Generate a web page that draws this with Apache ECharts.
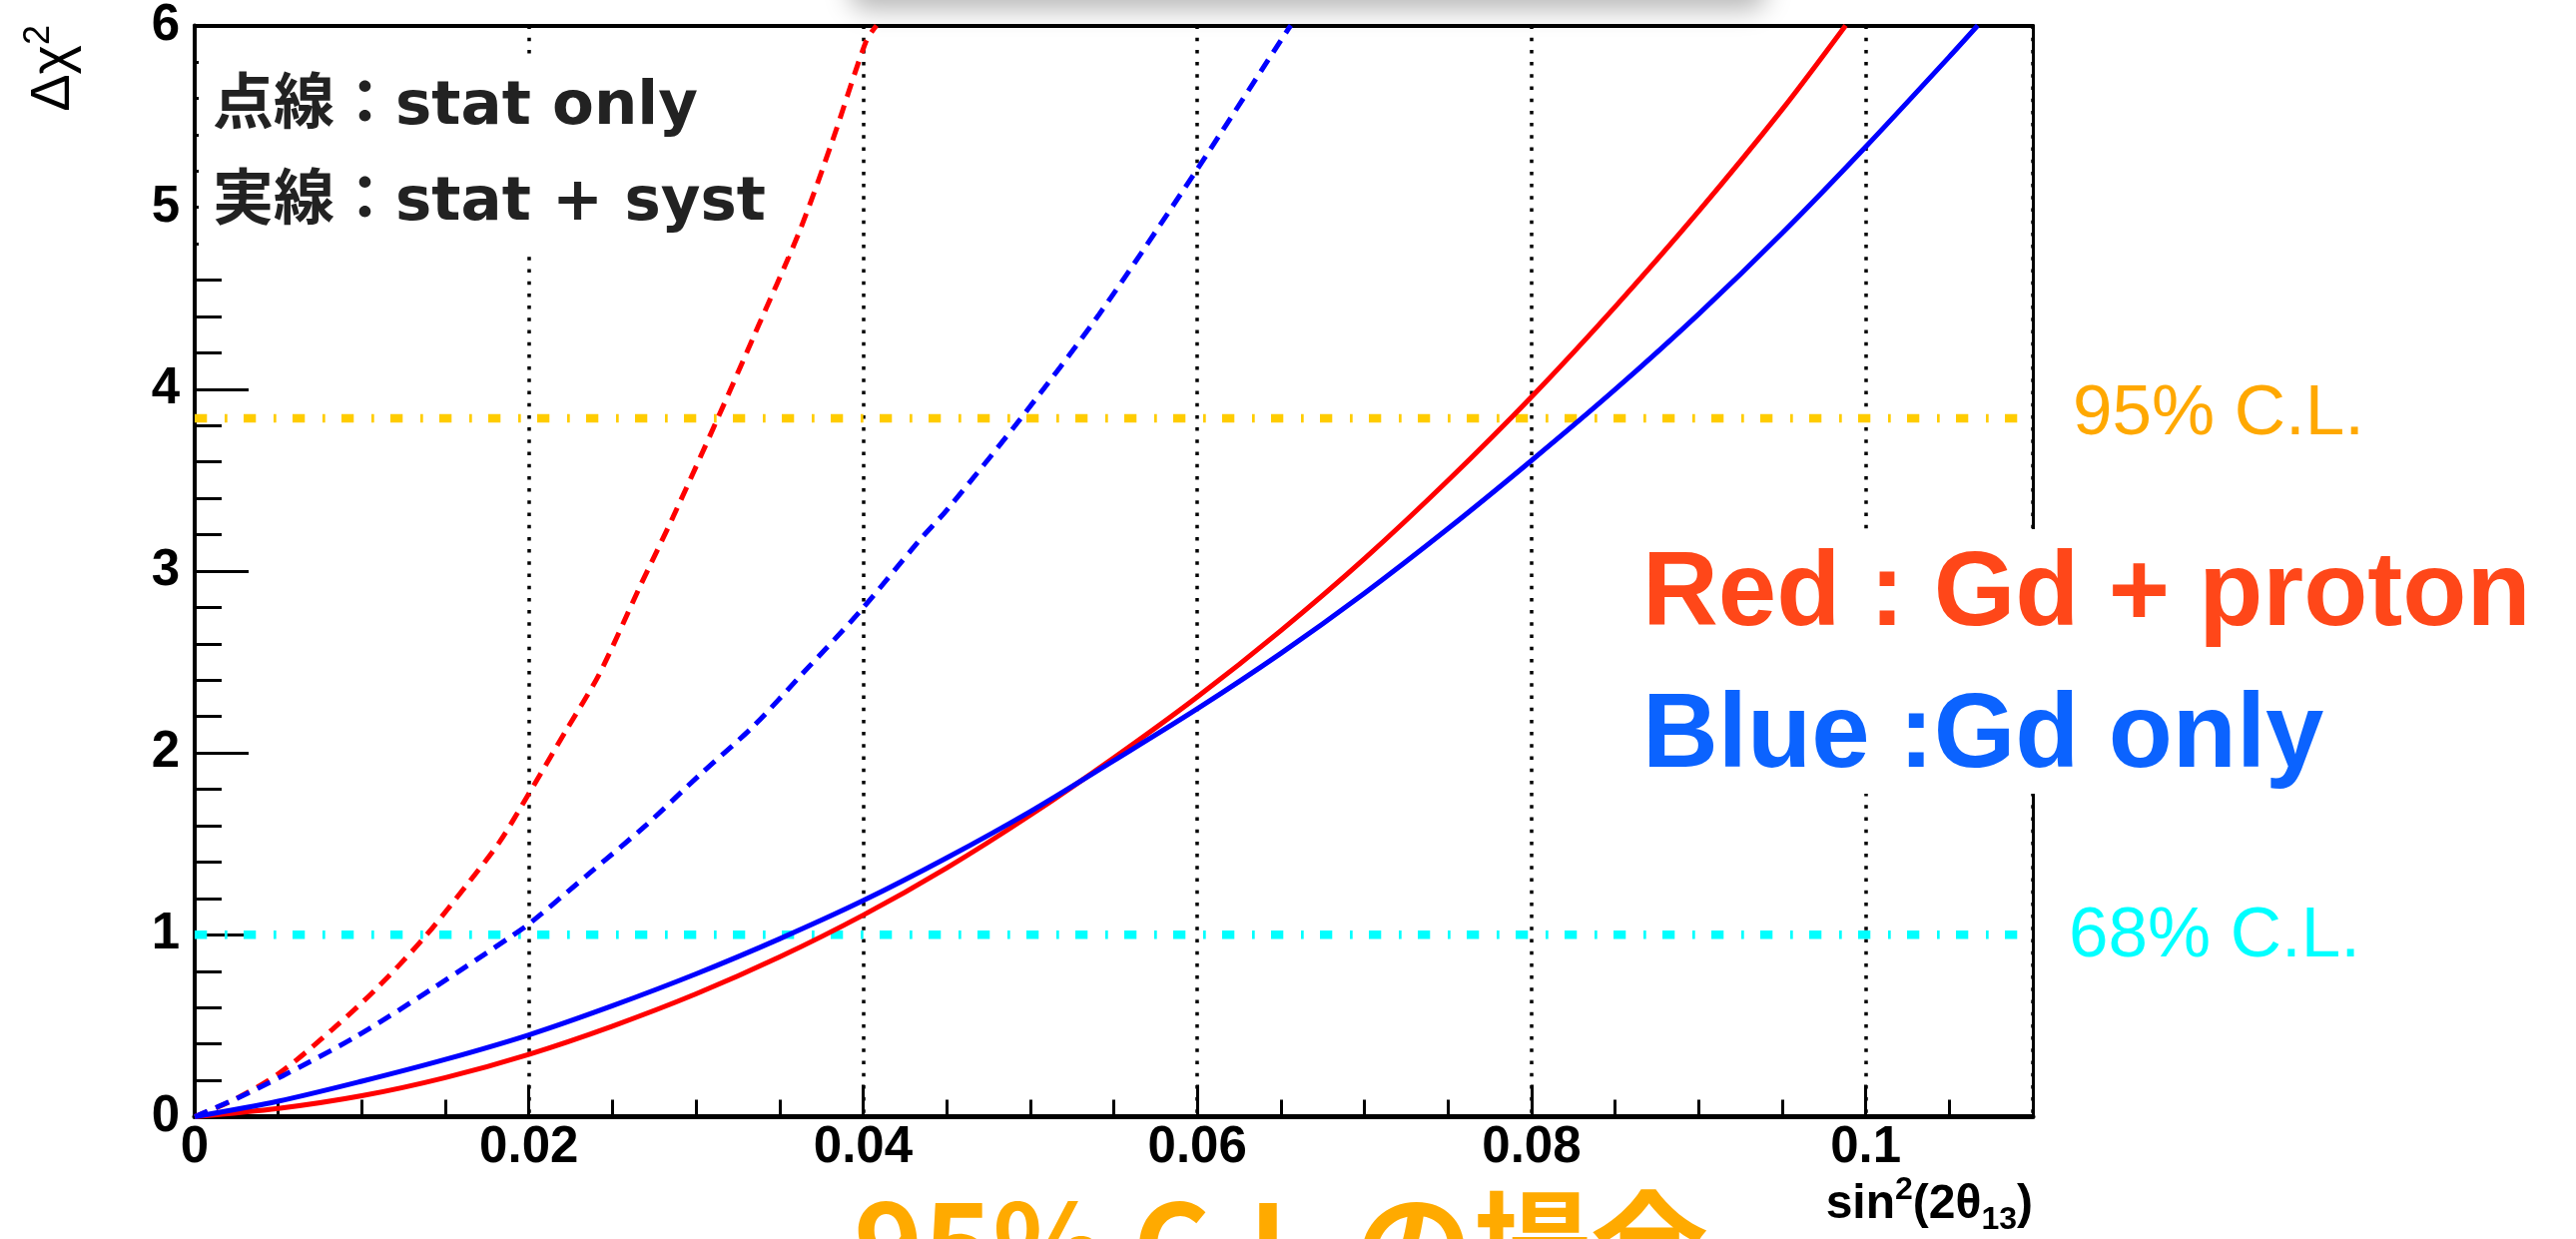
<!DOCTYPE html>
<html>
<head>
<meta charset="utf-8">
<script src="https://cdn.jsdelivr.net/npm/echarts@6/dist/echarts.min.js"></script>
<style>
html,body{margin:0;padding:0;background:#fff;}
#c{width:2580px;height:1241px;}
</style>
</head>
<body>
<div id="c"></div>
<script>
// ---- data ----
const xTickLabels = ['0', '0.02', '0.04', '0.06', '0.08', '0.1'];
const yTickLabels = ['0', '1', '2', '3', '4', '5', '6'];

// solid: stat + syst, Gd + proton (red)
const redSystX = [0, 0.005, 0.01, 0.015, 0.02, 0.025, 0.03, 0.035, 0.04, 0.045, 0.05, 0.055, 0.06, 0.065, 0.07, 0.075, 0.08, 0.085, 0.09, 0.095, 0.0988];
const redSystY = [0, 0.045, 0.115, 0.215, 0.343, 0.498, 0.675, 0.878, 1.108, 1.368, 1.658, 1.973, 2.308, 2.673, 3.068, 3.498, 3.958, 4.453, 4.978, 5.538, 6.0];

// solid: stat + syst, Gd only (blue)
const blueSystX = [0, 0.005, 0.01, 0.015, 0.02, 0.025, 0.03, 0.035, 0.04, 0.045, 0.05, 0.055, 0.06, 0.065, 0.07, 0.075, 0.08, 0.085, 0.09, 0.095, 0.1, 0.105, 0.1067];
const blueSystY = [0, 0.085, 0.195, 0.315, 0.45, 0.61, 0.785, 0.978, 1.188, 1.423, 1.678, 1.958, 2.243, 2.548, 2.878, 3.233, 3.608, 3.998, 4.413, 4.858, 5.333, 5.828, 6.0];

// dashed: stat only, Gd + proton (red)
const redStatX = [0, 0.0025, 0.00515, 0.00824, 0.01083, 0.01372, 0.0165, 0.01826, 0.01995, 0.02224, 0.02423, 0.02663, 0.02862, 0.0313, 0.0335, 0.03619, 0.03818, 0.04017, 0.0408];
const redStatY = [0, 0.10, 0.245, 0.48, 0.70, 0.983, 1.30, 1.513, 1.769, 2.126, 2.437, 2.912, 3.296, 3.84, 4.30, 4.868, 5.37, 5.911, 6.0];

// dashed: stat only, Gd only (blue)
const blueStatX = [0, 0.0025, 0.00525, 0.00953, 0.01431, 0.0191, 0.02015, 0.02364, 0.02702, 0.03021, 0.0334, 0.03638, 0.03987, 0.04336, 0.04505, 0.04944, 0.05412, 0.0599, 0.06547, 0.0656];
const blueStatY = [0, 0.10, 0.224, 0.434, 0.709, 1.001, 1.07, 1.340, 1.604, 1.879, 2.144, 2.437, 2.784, 3.168, 3.34, 3.84, 4.411, 5.197, 5.984, 6.0];

// confidence-level reference lines
const clNames = ['95% C.L.', '68% C.L.'];
const clValues = [3.84, 1.0];
const clRangeX = [0, 0.11];

// ---- build ----
function pairs(xs, ys) { return xs.map((x, i) => [x, ys[i]]); }
function isMajor(v) { const r = v / 0.02; return Math.abs(r - Math.round(r)) < 1e-6; }
function fmtX(v) { const i = Math.round(v / 0.02); return xTickLabels[i] !== undefined ? xTickLabels[i] : ''; }

const chart = echarts.init(document.getElementById('c'), null, {renderer: 'canvas'});

const axisFont = {fontSize: 51, fontWeight: 'bold', fontFamily: '"Liberation Sans", Arial, sans-serif', color: '#000'};

const curveSeries = (name, xs, ys, color, dashed) => ({
  name, type: 'line', xAxisIndex: 0, yAxisIndex: 0,
  data: pairs(xs, ys), showSymbol: false, symbol: 'none',
  smooth: 0.3, clip: true, z: 5,
  lineStyle: {color, width: 5, type: dashed ? [14, 9] : 'solid', cap: 'butt'}
});

const clColors = ['#FFCC00', '#00FFFF'];
const clSeries = clValues.map((v, i) => ({
  name: clNames[i], type: 'line', xAxisIndex: 0, yAxisIndex: 0,
  data: clRangeX.map(x => [x, v]), showSymbol: false, symbol: 'none', z: 4,
  lineStyle: {color: clColors[i], width: 8.5, type: [12.3, 17.7, 2.7, 16.3], cap: 'butt'}
}));

const option = {
  backgroundColor: '#fff',
  animation: false,
  grid: {left: 195, right: 544, top: 24.5, bottom: 122.5, containLabel: false},
  xAxis: [
    {type: 'value', min: 0, max: 0.11, interval: 0.005, position: 'bottom',
     axisLine: {show: true, onZero: false, lineStyle: {color: '#000', width: 5}},
     axisTick: {show: true, inside: true, length: 17, lineStyle: {color: '#000', width: 3}},
     axisLabel: Object.assign({show: true, margin: 6, showMaxLabel: true,
       formatter: v => isMajor(v) ? fmtX(v) : ''}, axisFont),
     splitLine: {show: false}},
    {type: 'value', min: 0, max: 0.11, interval: 0.02, position: 'bottom',
     axisLine: {show: false, onZero: false},
     axisTick: {show: true, inside: true, length: 32, lineStyle: {color: '#000', width: 3}},
     axisLabel: {show: false},
     splitLine: {show: true, lineStyle: {color: '#000', width: 3.5, type: [3.5, 8.7]}}},
    {type: 'value', min: 0, max: 0.11, position: 'top',
     axisLine: {show: true, onZero: false, lineStyle: {color: '#000', width: 4}},
     axisTick: {show: false}, axisLabel: {show: false}, splitLine: {show: false}}
  ],
  yAxis: [
    {type: 'value', min: 0, max: 6, interval: 1, position: 'left',
     axisLine: {show: true, onZero: false, lineStyle: {color: '#000', width: 4}},
     axisTick: {show: true, inside: true, length: 54, lineStyle: {color: '#000', width: 3}},
     minorTick: {show: true, splitNumber: 5, length: 27, lineStyle: {color: '#000', width: 3}},
     axisLabel: Object.assign({show: true, margin: 15, padding: [10, 0, 0, 0],
       formatter: v => yTickLabels[Math.round(v)]}, axisFont),
     splitLine: {show: false}},
    {type: 'value', min: 0, max: 6, position: 'right',
     axisLine: {show: true, onZero: false, lineStyle: {color: '#000', width: 3}},
     axisTick: {show: false}, axisLabel: {show: false}, splitLine: {show: false}}
  ],
  series: [
    ...clSeries,
    curveSeries('Gd + proton (stat only)', redStatX, redStatY, '#FF0000', true),
    curveSeries('Gd only (stat only)', blueStatX, blueStatY, '#0000FF', true),
    curveSeries('Gd + proton (stat + syst)', redSystX, redSystY, '#FF0000', false),
    curveSeries('Gd only (stat + syst)', blueSystX, blueSystY, '#0000FF', false)
  ],
  graphic: [
    // blurred, cut-off heading at the very top
    {type: 'rect', z: 1, shape: {x: 850, y: -46, width: 920, height: 40, r: 20},
     style: {fill: '#bbb', shadowBlur: 26, shadowColor: 'rgba(0,0,0,0.28)', shadowOffsetY: 16}},
    // top-left legend box
    {type: 'rect', z: 100, shape: {x: 199, y: 55, width: 590, height: 202}, style: {fill: '#fff'}},
    {type: 'text', z: 101, x: 213, y: 108,
     style: {text: '点線：stat only', fontSize: 61, fontWeight: 'bold',
       fontFamily: '"DejaVu Sans", "Noto Sans CJK JP", sans-serif', fill: '#222', align: 'left', verticalAlign: 'middle'}},
    {type: 'text', z: 101, x: 213, y: 204,
     style: {text: '実線：stat + syst', fontSize: 61, fontWeight: 'bold',
       fontFamily: '"DejaVu Sans", "Noto Sans CJK JP", sans-serif', fill: '#222', align: 'left', verticalAlign: 'middle'}},
    // right legend box
    {type: 'rect', z: 100, shape: {x: 1625, y: 530, width: 955, height: 265}, style: {fill: '#fff'}},
    {type: 'text', z: 101, x: 1645, y: 597,
     style: {text: 'Red : Gd + proton', fontSize: 105, fontWeight: 'bold',
       fontFamily: '"Liberation Sans", Arial, sans-serif', fill: '#FF4719', align: 'left', verticalAlign: 'middle'}},
    {type: 'text', z: 101, x: 1645, y: 739,
     style: {text: 'Blue :Gd only', fontSize: 105, fontWeight: 'bold',
       fontFamily: '"Liberation Sans", Arial, sans-serif', fill: '#0B63FF', align: 'left', verticalAlign: 'middle'}},
    // C.L. labels
    {type: 'text', z: 101, x: 2076, y: 415,
     style: {text: clNames[0], fontSize: 71, fontFamily: '"Liberation Sans", Arial, sans-serif',
       fill: '#FFA800', align: 'left', verticalAlign: 'middle'}},
    {type: 'text', z: 101, x: 2072, y: 938,
     style: {text: clNames[1], fontSize: 71, fontFamily: '"Liberation Sans", Arial, sans-serif',
       fill: '#00FFFF', align: 'left', verticalAlign: 'middle'}},
    // axis titles
    {type: 'text', z: 101, x: 2036, y: 1207,
     style: {text: '{m|sin}{s|2}{m|(2θ}{b|13}{m|)}', align: 'right', verticalAlign: 'middle',
       rich: {
         m: {fontSize: 48, fontWeight: 'bold', fontFamily: '"Liberation Sans", Arial, sans-serif', fill: '#000', lineHeight: 62},
         s: {fontSize: 32, fontWeight: 'bold', fontFamily: '"Liberation Sans", Arial, sans-serif', fill: '#000', lineHeight: 62, verticalAlign: 'top'},
         b: {fontSize: 32, fontWeight: 'bold', fontFamily: '"Liberation Sans", Arial, sans-serif', fill: '#000', lineHeight: 62, verticalAlign: 'bottom'}
       }}},
    {type: 'text', z: 101, x: 54, y: 25, rotation: Math.PI / 2,
     style: {text: '{m|Δχ}{s|2}', align: 'right', verticalAlign: 'middle',
       rich: {
         m: {fontSize: 56, fontFamily: '"Liberation Sans", Arial, sans-serif', fill: '#000', lineHeight: 66},
         s: {fontSize: 36, fontFamily: '"Liberation Sans", Arial, sans-serif', fill: '#000', lineHeight: 66, verticalAlign: 'top'}
       }}},
    // bottom caption, cut off by the page edge
    {type: 'text', z: 101, x: 855, y: 1188,
     style: {text: '95% C.L.の場合', fontSize: 118, fontWeight: 'bold',
       fontFamily: '"Noto Sans CJK JP", sans-serif', fill: '#FFAA00', align: 'left', verticalAlign: 'top'}}
  ]
};
chart.setOption(option);
</script>
</body>
</html>
